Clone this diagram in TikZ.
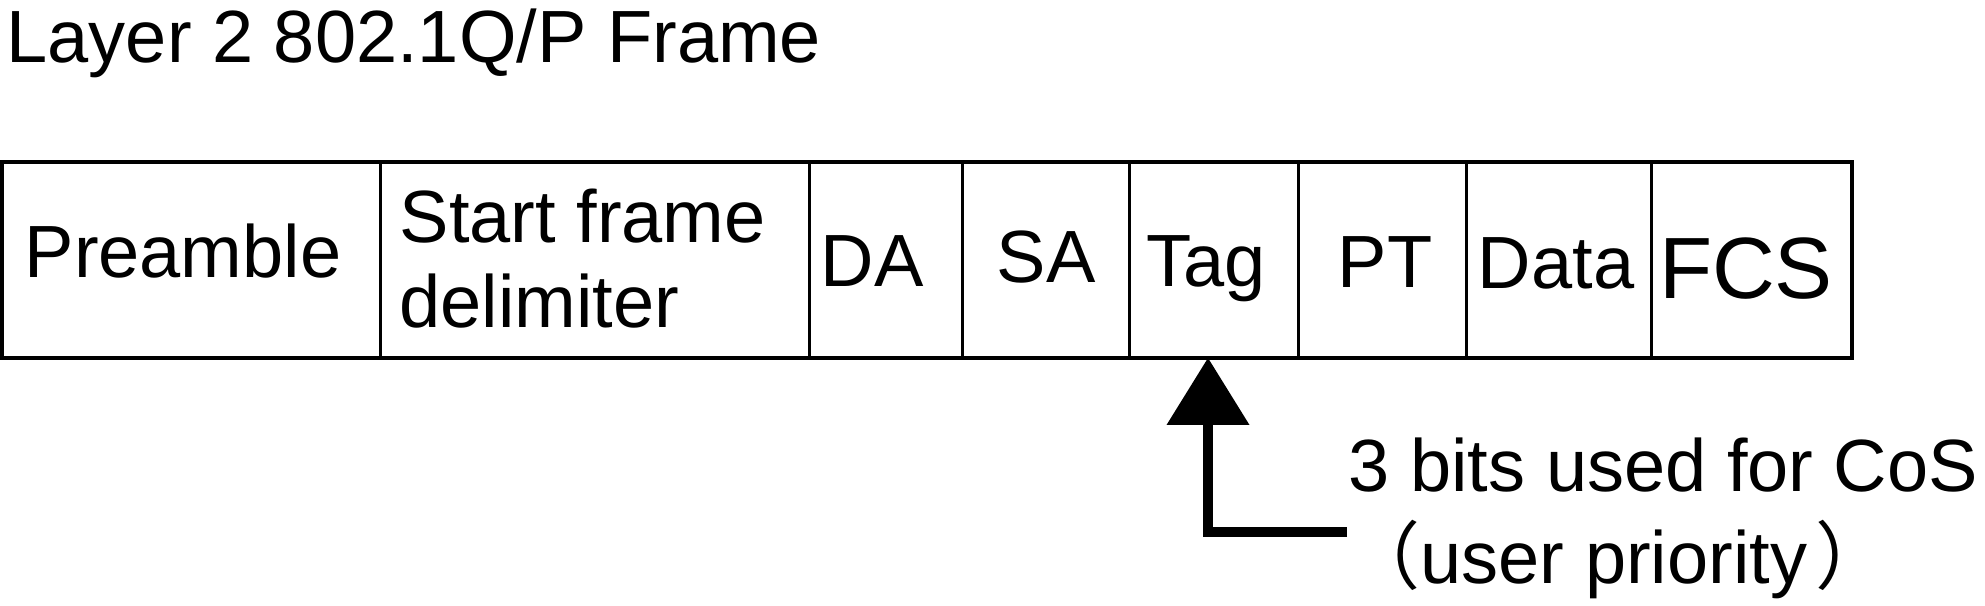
\documentclass[tikz,border=0pt]{standalone}
\usepackage{fontspec}
\setmainfont{Liberation Sans}
\newfontfamily\cjkfont{Noto Sans CJK SC}
\usetikzlibrary{arrows.meta}
\begin{document}
\begin{tikzpicture}[x=0.3pt,y=-0.3pt,
  cell/.style={draw, line width=0.9pt, minimum height=58.8pt, inner sep=0pt, outer sep=0pt, anchor=north west},
  txt/.style={font=\fontsize{22.2}{26}\selectfont, inner sep=0pt, anchor=base},
  big/.style={font=\fontsize{26.1}{30}\selectfont, inner sep=0pt, anchor=base},
  pointer/.style={line width=3pt, line join=miter, line cap=butt,
    -{Triangle[width=24.9pt,length=20.1pt,line width=0pt]}}
]
\useasboundingbox (0,0) rectangle (1985,606);
% title
\node[txt, anchor=base west] (title) at (6,63) {Layer 2 802.1Q/P Frame};
% frame cells
\node[cell, minimum width=113.4pt] (pre)  at (2,162) {};
\node[cell, minimum width=128.7pt] (sfd)  at (380,162) {};
\node[cell, minimum width=45.9pt]  (da)   at (809,162) {};
\node[cell, minimum width=50.1pt]  (sa)   at (962,162) {};
\node[cell, minimum width=50.7pt]  (tag)  at (1129,162) {};
\node[cell, minimum width=50.4pt]  (pt)   at (1298,162) {};
\node[cell, minimum width=55.5pt]  (data) at (1466,162) {};
\node[cell, minimum width=60.3pt]  (fcs)  at (1651,162) {};
\draw[line width=1.2pt] (pre.north west) rectangle (fcs.south east);
% cell texts
\node[txt] (tpre) at (183,278) {Preamble};
\node[txt, anchor=base west] (tsfd1) at (399,243) {Start frame};
\node[txt, anchor=base west] (tsfd2) at (399,328) {delimiter};
\node[txt] (tda) at (872,287) {DA};
\node[txt] (tsa) at (1046,283) {SA};
\node[txt] (ttag) at (1206,287) {Tag};
\node[txt] (tpt) at (1385,288) {PT};
\node[txt] (tdata) at (1556,289) {Data};
\node[big] (tfcs) at (1746,299) {FCS};
% annotation
\node[txt, anchor=base west] (cos1) at (1348,492) {3 bits used for CoS};
\node[txt, anchor=base west] (cos2) at (1346,584) {{\cjkfont （}user priority\kern2.5pt{\cjkfont ）}};
\coordinate (armend) at (1347,532);
\draw[pointer] (armend) -| ([xshift=-1.65pt]tag.south);
\end{tikzpicture}
\end{document}
